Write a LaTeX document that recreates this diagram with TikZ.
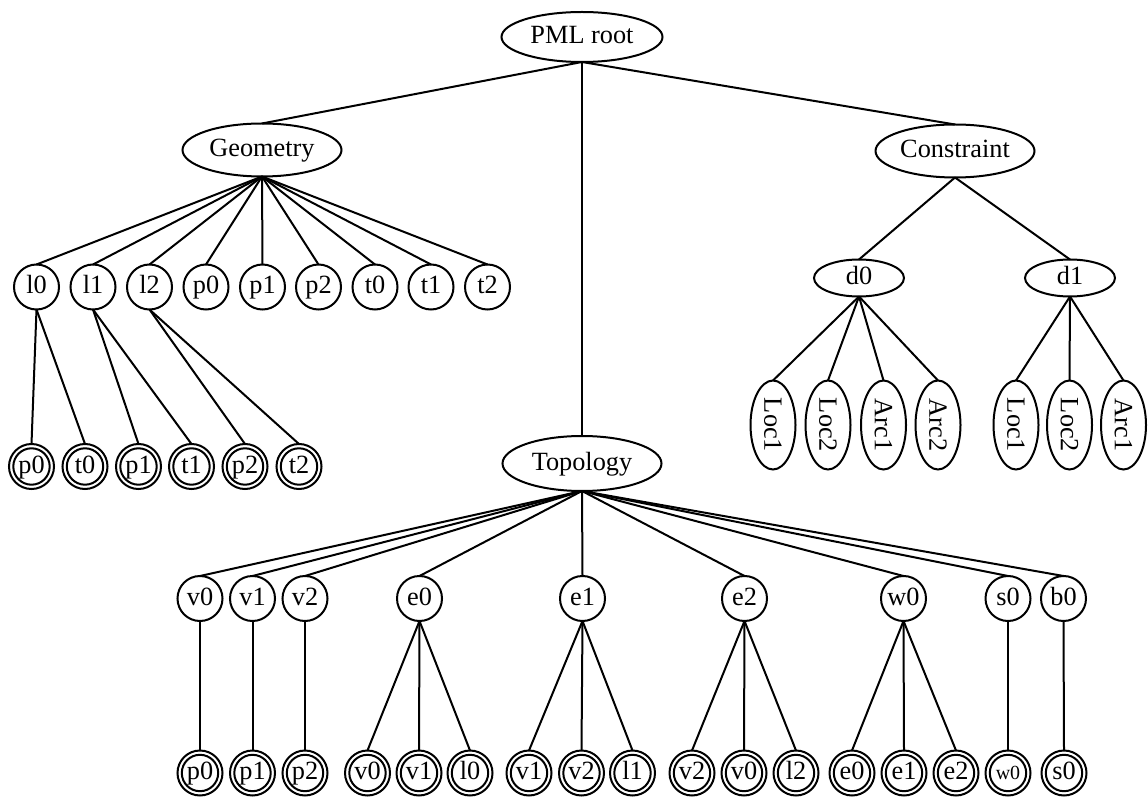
\documentclass[tikz,border=0pt]{standalone}
\usepackage{fontspec}
\usepackage{graphicx}
\setmainfont{Liberation Serif}
\usetikzlibrary{shapes.geometric}
\begin{document}
\begin{tikzpicture}[x=1pt,y=-1pt,line width=2pt,
  every node/.style={inner sep=0pt, outer sep=0pt, font=\fontsize{26.3}{30}\selectfont},
  txt/.style={text height=18pt, text depth=5pt},
  oval/.style n args={2}{draw, ellipse, txt, minimum width=#1, minimum height=#2},
  leaf/.style={draw, circle, txt, minimum size=45},
  dleaf/.style={draw, circle, txt, minimum size=45,
    path picture={\draw[line width=2pt] (path picture bounding box.center) circle (18.2);}},
  vtext/.style={draw, ellipse, minimum width=45, minimum height=89},
  small/.style={font=\fontsize{20}{24}\selectfont}
]
\useasboundingbox (0,0) rectangle (1148,799);

% top levels
\node[oval={161}{50}] (root) at (582,37) {PML root};
\node[oval={159}{53}] (geo) at (262,150) {Geometry};
\node[oval={159}{53}] (con) at (955,151) {Constraint};
\node[oval={159}{55}] (topo) at (582,463.5) {Topology};

\draw (root.south) -- (geo.north);
\draw (root.south) -- (topo.north);
\draw (root.south) -- (con.north);

% geometry entities
\foreach \n/\x in {l0/36.5, l1/93, l2/149.5, p0/206, p1/262.5, p2/318.5, t0/375, t1/431, t2/487.5}
  \node[leaf] (g\n) at (\x,287) {\n};
\foreach \n in {l0, l1, l2, p0, p1, p2, t0, t1, t2}
  \draw (geo.south) -- (g\n.north);

% geometry references
\foreach \n/\x in {p0/31.5, t0/85, p1/138.5, t1/191.5, p2/245, t2/299}
  \node[dleaf] (gr\n) at (\x,466.5) {\n};
\draw (gl0.south) -- (grp0.north);
\draw (gl0.south) -- (grt0.north);
\draw (gl1.south) -- (grp1.north);
\draw (gl1.south) -- (grt1.north);
\draw (gl2.south) -- (grp2.north);
\draw (gl2.south) -- (grt2.north);

% constraints
\node[oval={90}{37}] (d0) at (859,278) {d0};
\node[oval={90}{37}] (d1) at (1070,278) {d1};
\draw (con.south) -- (d0.north);
\draw (con.south) -- (d1.north);

\foreach \n/\t/\x in {a/Loc1/773, b/Loc2/828, c/Arc1/883.5, d/Arc2/938}
  {\node[vtext] (d0\n) at (\x,425) {\rotatebox{-90}{\t}};
   \draw (d0.south) -- (d0\n.north);}
\foreach \n/\t/\x in {a/Loc1/1016, b/Loc2/1069.5, c/Arc1/1123.5}
  {\node[vtext] (d1\n) at (\x,425) {\rotatebox{-90}{\t}};
   \draw (d1.south) -- (d1\n.north);}

% topology entities
\foreach \n/\x in {v0/200, v1/252.5, v2/305, e0/419.5, e1/582.5, e2/744.5, w0/903.5, s0/1008, b0/1063.5}
  {\node[leaf] (t\n) at (\x,598.5) {\n};
   \draw (topo.south) -- (t\n.north);}

% topology references
\foreach \k/\n/\x in {1/p0/200, 2/p1/252.5, 3/p2/305,
                      4/v0/367.5, 5/v1/419, 6/l0/470,
                      7/v1/529, 8/v2/581.5, 9/l1/632.5,
                      10/v2/692, 11/v0/744, 12/l2/796,
                      13/e0/852, 14/e1/904, 15/e2/956, 17/s0/1064}
  \node[dleaf] (r\k) at (\x,773) {\n};
\node[dleaf, small] (r16) at (1008,773) {w0};

\draw (tv0.south) -- (r1.north);
\draw (tv1.south) -- (r2.north);
\draw (tv2.south) -- (r3.north);
\draw (te0.south) -- (r4.north);
\draw (te0.south) -- (r5.north);
\draw (te0.south) -- (r6.north);
\draw (te1.south) -- (r7.north);
\draw (te1.south) -- (r8.north);
\draw (te1.south) -- (r9.north);
\draw (te2.south) -- (r10.north);
\draw (te2.south) -- (r11.north);
\draw (te2.south) -- (r12.north);
\draw (tw0.south) -- (r13.north);
\draw (tw0.south) -- (r14.north);
\draw (tw0.south) -- (r15.north);
\draw (ts0.south) -- (r16.north);
\draw (tb0.south) -- (r17.north);
\end{tikzpicture}
\end{document}
